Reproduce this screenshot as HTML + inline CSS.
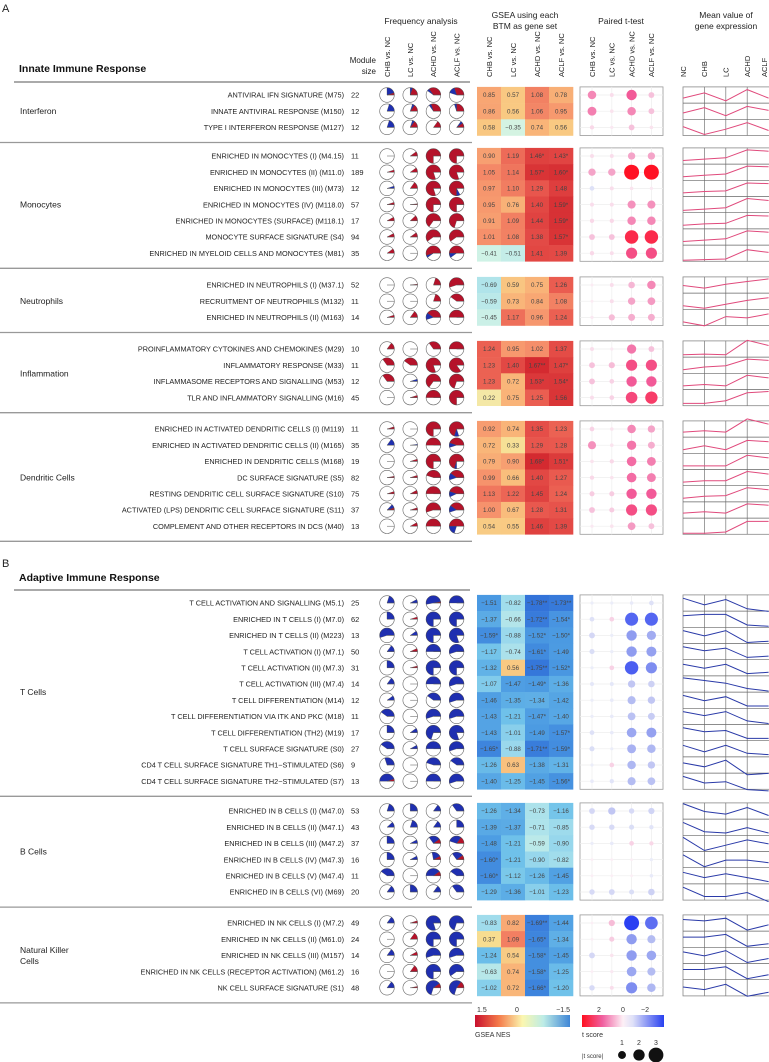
<!DOCTYPE html>
<html><head><meta charset="utf-8"><style>
body{margin:0;background:#fff;}
svg{display:block;font-family:"Liberation Sans",Arial,sans-serif;}
</style></head><body>
<svg id="fig" width="769" height="1062" viewBox="0 0 769 1062" xmlns="http://www.w3.org/2000/svg">
<defs>
<linearGradient id="gNes" x1="0" x2="1" y1="0" y2="0">
<stop offset="0" stop-color="#c8102e"/><stop offset="0.25" stop-color="#f47a4a"/><stop offset="0.5" stop-color="#fbf7b0"/><stop offset="0.72" stop-color="#bdece6"/><stop offset="1" stop-color="#3f86d6"/>
</linearGradient>
<linearGradient id="gT" x1="0" x2="1" y1="0" y2="0">
<stop offset="0" stop-color="#ff1020"/><stop offset="0.25" stop-color="#f060a0"/><stop offset="0.5" stop-color="#fdf0f6"/><stop offset="0.62" stop-color="#dfe1f8"/><stop offset="1" stop-color="#2840f0"/>
</linearGradient>
</defs>
<g id="root"></g>
</svg>
<script>
const groupNames=["Interferon","Monocytes","Neutrophils","Inflammation","Dendritic Cells","T Cells","B Cells","Natural Killer|Cells"];
const groupFirstY=[95,156,285,349,429,603,811,923];
const groupCounts=[3,7,3,4,7,12,6,5];
const groupAdaptive=[0,0,0,0,0,1,1,1];
const moduleNames=["ANTIVIRAL IFN SIGNATURE (M75)","INNATE ANTIVIRAL RESPONSE (M150)","TYPE I INTERFERON RESPONSE (M127)",
"ENRICHED IN MONOCYTES (I) (M4.15)","ENRICHED IN MONOCYTES (II) (M11.0)","ENRICHED IN MONOCYTES (III) (M73)","ENRICHED IN MONOCYTES (IV) (M118.0)","ENRICHED IN MONOCYTES (SURFACE) (M118.1)","MONOCYTE SURFACE SIGNATURE (S4)","ENRICHED IN MYELOID CELLS AND MONOCYTES (M81)",
"ENRICHED IN NEUTROPHILS (I) (M37.1)","RECRUITMENT OF NEUTROPHILS (M132)","ENRICHED IN NEUTROPHILS (II) (M163)",
"PROINFLAMMATORY CYTOKINES AND CHEMOKINES (M29)","INFLAMMATORY RESPONSE (M33)","INFLAMMASOME RECEPTORS AND SIGNALLING (M53)","TLR AND INFLAMMATORY SIGNALLING (M16)",
"ENRICHED IN ACTIVATED DENDRITIC CELLS (I) (M119)","ENRICHED IN ACTIVATED DENDRITIC CELLS (II) (M165)","ENRICHED IN DENDRITIC CELLS (M168)","DC SURFACE SIGNATURE (S5)","RESTING DENDRITIC CELL SURFACE SIGNATURE (S10)","ACTIVATED (LPS) DENDRITIC CELL SURFACE SIGNATURE (S11)","COMPLEMENT AND OTHER RECEPTORS IN DCS (M40)",
"T CELL ACTIVATION AND SIGNALLING (M5.1)","ENRICHED IN T CELLS (I) (M7.0)","ENRICHED IN T CELLS (II) (M223)","T CELL ACTIVATION (I) (M7.1)","T CELL ACTIVATION (II) (M7.3)","T CELL ACTIVATION (III) (M7.4)","T CELL DIFFERENTIATION (M14)","T CELL DIFFERENTIATION VIA ITK AND PKC (M18)","T CELL DIFFERENTIATION (TH2) (M19)","T CELL SURFACE SIGNATURE (S0)","CD4 T CELL SURFACE SIGNATURE TH1−STIMULATED (S6)","CD4 T CELL SURFACE SIGNATURE TH2−STIMULATED (S7)",
"ENRICHED IN B CELLS (I) (M47.0)","ENRICHED IN B CELLS (II) (M47.1)","ENRICHED IN B CELLS (III) (M47.2)","ENRICHED IN B CELLS (IV) (M47.3)","ENRICHED IN B CELLS (V) (M47.4)","ENRICHED IN B CELLS (VI) (M69)",
"ENRICHED IN NK CELLS (I) (M7.2)","ENRICHED IN NK CELLS (II) (M61.0)","ENRICHED IN NK CELLS (III) (M157)","ENRICHED IN NK CELLS (RECEPTOR ACTIVATION) (M61.2)","NK CELL SURFACE SIGNATURE (S1)"];
const moduleSizes=[22,12,12,11,189,12,57,17,94,35,52,11,14,10,11,12,45,11,35,19,82,75,37,13,25,62,13,50,31,14,12,11,17,27,9,13,53,43,37,16,11,20,49,24,14,16,48];
const nesValues=[[0.85,0.57,1.08,0.78],[0.86,0.56,1.06,0.95],[0.58,-0.35,0.74,0.56],
[0.90,1.19,1.46,1.43],[1.05,1.14,1.57,1.60],[0.97,1.10,1.29,1.48],[0.95,0.76,1.40,1.59],[0.91,1.09,1.44,1.59],[1.01,1.08,1.38,1.57],[-0.41,-0.51,1.41,1.39],
[-0.69,0.59,0.75,1.26],[-0.59,0.73,0.84,1.08],[-0.45,1.17,0.96,1.24],
[1.24,0.95,1.02,1.37],[1.23,1.40,1.67,1.47],[1.23,0.72,1.53,1.54],[0.22,0.75,1.25,1.56],
[0.92,0.74,1.35,1.23],[0.72,0.33,1.29,1.28],[0.79,0.90,1.68,1.51],[0.99,0.66,1.40,1.27],[1.13,1.22,1.45,1.24],[1.00,0.67,1.28,1.31],[0.54,0.55,1.46,1.39],
[-1.51,-0.82,-1.78,-1.73],[-1.37,-0.66,-1.72,-1.54],[-1.59,-0.88,-1.52,-1.50],[-1.17,-0.74,-1.61,-1.49],[-1.32,0.56,-1.75,-1.52],[-1.07,-1.47,-1.49,-1.36],[-1.46,-1.35,-1.34,-1.42],[-1.43,-1.21,-1.47,-1.40],[-1.43,-1.01,-1.49,-1.57],[-1.65,-0.88,-1.71,-1.59],[-1.26,0.63,-1.38,-1.31],[-1.40,-1.25,-1.45,-1.56],
[-1.26,-1.34,-0.73,-1.16],[-1.39,-1.37,-0.71,-0.85],[-1.48,-1.21,-0.59,-0.90],[-1.60,-1.21,-0.90,-0.82],[-1.60,-1.12,-1.26,-1.45],[-1.29,-1.36,-1.01,-1.23],
[-0.83,0.82,-1.69,-1.44],[0.37,1.09,-1.65,-1.34],[-1.24,0.54,-1.58,-1.45],[-0.63,0.74,-1.58,-1.25],[-1.02,0.72,-1.66,-1.20]];
const nesStars=[[0,0,0,0],[0,0,0,0],[0,0,0,0],
[0,0,1,1],[0,0,1,1],[0,0,0,0],[0,0,0,1],[0,0,0,1],[0,0,0,1],[0,0,0,0],
[0,0,0,0],[0,0,0,0],[0,0,0,0],
[0,0,0,0],[0,0,2,1],[0,0,1,1],[0,0,0,0],
[0,0,0,0],[0,0,0,0],[0,0,1,1],[0,0,0,0],[0,0,0,0],[0,0,0,0],[0,0,0,0],
[0,0,2,2],[0,0,2,1],[1,0,1,1],[0,0,1,0],[0,0,2,1],[0,0,1,0],[0,0,0,0],[0,0,1,0],[0,0,0,1],[1,0,2,1],[0,0,0,0],[0,0,0,1],
[0,0,0,0],[0,0,0,0],[0,0,0,0],[1,0,0,0],[1,0,0,0],[0,0,0,0],
[0,0,2,0],[0,0,1,0],[0,0,1,0],[0,0,1,0],[0,0,1,0]];
const pieRed=[[0.05,0.2,0.35,0.3],[0,0.15,0.3,0.25],[0,0.15,0.15,0.1],
[0,0.1,0.75,0.75],[0.05,0.1,0.8,0.8],[0,0.15,0.8,0.75],[0.05,0.02,0.75,0.75],[0.08,0.12,0.65,0.7],[0.08,0.1,0.6,0.6],[0.1,0,0.55,0.5],
[0,0.02,0.2,0.55],[0,0,0.2,0.4],[0.05,0.15,0.4,0.5],
[0.15,0,0.35,0.5],[0.35,0.4,0.8,0.85],[0.35,0,0.65,0.7],[0,0.05,0.5,0.75],
[0.05,0,0.75,0.7],[0,0,0.5,0.45],[0,0.05,0.75,0.7],[0.03,0.05,0.45,0.4],[0.05,0.08,0.5,0.45],[0.05,0.05,0.55,0.4],[0,0.08,0.5,0.5],
[0,0,0.03,0],[0,0.05,0,0],[0,0,0,0],[0,0.07,0,0],[0,0.04,0,0],[0,0,0,0],[0,0,0,0],[0,0,0,0],[0,0,0,0],[0,0,0,0],[0,0,0,0],[0.05,0,0,0],
[0,0,0,0],[0,0,0,0],[0,0,0.1,0.15],[0,0,0.08,0.1],[0,0,0.1,0],[0,0,0,0],
[0,0.05,0,0],[0,0.15,0,0],[0,0.08,0,0],[0,0.15,0,0],[0,0.03,0.1,0.15]];
const pieBlue=[[0.2,0.05,0.05,0.15],[0.2,0.05,0.05,0.05],[0.2,0.05,0,0.05],
[0,0,0,0],[0,0,0,0],[0.05,0,0,0.08],[0,0,0,0],[0,0,0,0],[0,0,0,0],[0,0,0.05,0.1],
[0,0,0,0],[0,0,0,0],[0,0,0.15,0],
[0,0,0,0],[0,0,0,0],[0,0.05,0,0],[0,0,0,0],
[0,0,0,0.1],[0.15,0.02,0,0.1],[0,0,0,0.05],[0,0,0,0.15],[0,0,0,0.12],[0.08,0,0,0.15],[0,0,0,0.2],
[0.2,0.08,0.5,0.5],[0.25,0,0.75,0.75],[0.55,0.1,0.75,0.8],[0.15,0,0.5,0.55],[0.25,0,0.75,0.75],[0.15,0,0.5,0.55],[0.1,0,0.4,0.55],[0.4,0,0.55,0.55],[0.25,0.1,0.7,0.8],[0.4,0.08,0.5,0.55],[0.3,0,0.45,0.4],[0.45,0,0.5,0.55],
[0.2,0.25,0.15,0.35],[0.12,0.2,0.15,0.25],[0.25,0.08,0.25,0.3],[0.25,0.08,0.2,0.25],[0.4,0,0.4,0.4],[0.15,0.25,0.15,0.35],
[0.15,0,0.8,0.7],[0,0,0.75,0.75],[0.15,0,0.55,0.55],[0,0,0.75,0.6],[0.15,0,0.6,0.55]];
const tScores=[[1.5,0.3,2.0,0.8],[1.6,0.2,1.5,0.8],[0.4,0.1,0.8,0.2],
[0.3,0.3,1.2,1.2],[1.2,1.2,3.2,3.2],[-0.5,0.3,0.2,0.1],[0.3,0.3,1.4,1.4],[0.4,0.4,1.5,1.5],[0.8,0.8,2.8,2.8],[0.4,0.3,2.2,2.2],
[0.05,0.3,1.0,1.5],[0.05,0.3,1.2,1.3],[0.1,0.9,1.1,1.1],
[0.3,0.1,1.7,0.8],[0.8,0.9,2.2,2.2],[0.8,0.5,2.0,2.0],[0.3,0.5,2.3,2.5],
[0.5,0.2,1.5,1.2],[1.4,0.2,1.7,1.1],[0.2,0.4,1.8,1.6],[0.4,0.2,1.8,1.6],[0.6,0.6,2.0,2.0],[0.8,0.6,2.2,2.2],[0.1,0.2,1.3,0.8],
[-0.1,-0.1,-0.2,-0.5],[-0.5,0.5,-2.7,-2.7],[-0.8,-0.1,-2.0,-1.7],[-0.6,-0.1,-2.0,-1.9],[-0.1,0.5,-2.8,-2.2],[-0.3,-0.3,-1.2,-1.0],[-0.1,-0.2,-1.4,-1.2],[-0.1,-0.2,-1.3,-1.1],[-0.5,-0.2,-1.8,-1.9],[-0.6,-0.1,-1.6,-1.5],[-0.1,0.5,-1.5,-1.2],[-0.2,-0.4,-1.4,-1.3],
[-0.8,-1.2,-0.7,-0.9],[-0.7,-0.7,-0.6,-0.4],[-0.1,-0.2,0.5,0.4],[0,0,0,-0.1],[0,0,0,-0.2],[-0.7,-0.8,-0.6,-1.0],
[0,0.9,-3.2,-2.6],[0,0.6,-2.0,-1.4],[-0.8,0.2,-2.0,-1.8],[0,0.1,-1.8,-1.4],[-0.7,0.3,-2.2,-1.5]];
const meanExpr=[[0.3,0.7,0.1,0.95,0.3],[0.4,0.8,0.2,0.9,0.6],[0.6,0.0,0.4,0.9,0.3],
[0.2,0.3,0.4,1.0,0.9],[0.2,0.3,0.4,1.0,0.95],[0.2,0.3,0.35,0.95,0.9],[0.1,0.2,0.3,1.0,0.85],[0.2,0.3,0.35,0.95,0.9],[0.2,0.3,0.4,1.0,0.9],[0.0,0.05,0.1,0.8,0.6],
[0.5,0.3,0.6,0.8,1.0],[0.2,0.0,0.3,0.6,0.8],[0.2,-0.1,0.6,0.5,0.8],
[0.1,0.15,0.1,1.2,0.8],[0.2,0.4,0.5,1.0,0.9],[0.2,0.3,0.2,1.0,0.8],[0.1,0.1,0.3,0.9,1.0],
[0.3,0.4,0.3,1.3,0.9],[0.2,0.5,0.2,0.9,0.8],[0.2,0.2,0.2,1.0,0.8],[0.2,0.3,0.3,1.0,0.8],[0.2,0.35,0.4,1.0,0.85],[0.3,0.4,0.3,1.0,0.9],[0.0,0.0,0.1,0.9,0.9],
[0.9,0.4,0.8,0.1,-0.1],[0.8,0.9,0.9,0.1,0.0],[0.9,0.5,0.9,0.0,0.1],[0.9,0.6,0.8,0.1,0.2],[0.8,0.5,0.8,0.1,0.2],[1.0,0.8,0.6,0.2,0.0],[0.9,0.5,0.8,0.1,0.1],[0.9,0.6,0.9,0.2,0.0],[0.9,0.6,0.7,0.1,0.1],[0.8,0.3,0.8,0.2,0.1],[0.7,0.4,0.9,-0.2,-0.1],[0.9,0.4,0.5,-0.1,-0.2],
[1.1,0.5,0.3,0.8,0.2],[0.9,0.2,0.1,0.5,0.1],[1.0,0.0,0.4,0.8,0.5],[0.9,0.0,0.5,0.5,0.3],[0.8,0.4,0.7,0.4,0.1],[0.9,0.2,0.2,0.5,-0.2],
[0.8,0.7,0.9,0.0,0.4],[0.7,0.7,0.9,0.0,0.2],[0.8,0.5,0.9,0.0,0.3],[0.7,0.7,0.9,0.0,0.3],[0.6,0.4,0.8,-0.1,0.2]];
const compLabels=["CHB vs. NC","LC vs. NC","ACHD vs. NC","ACLF vs. NC"];
const stageLabels=["NC","CHB","LC","ACHD","ACLF"];

const NS="http://www.w3.org/2000/svg";
const root=document.getElementById('root');
function mk(tag,attrs,parent,txt){const e=document.createElementNS(NS,tag);for(const k in attrs)e.setAttribute(k,attrs[k]);if(txt!==undefined)e.textContent=txt;(parent||root).appendChild(e);return e;}
const ROW=16.2;
const pieX=i=>387+i*23.2;
const hmX0=477, hmW=24;
const hmX=i=>hmX0+i*hmW;
const dotX=i=>592+i*19.8;
const lnX=i=>683+i*21.4;
const rowY=(g,k)=>groupFirstY[g]+k*ROW;
const rScale=t=>1.4+1.9*Math.min(Math.abs(t),3.4);

function hexToRgb(h){return [parseInt(h.substr(1,2),16),parseInt(h.substr(3,2),16),parseInt(h.substr(5,2),16)];}
function interp(stops,v){if(v>=stops[0][0])return stops[0][1];if(v<=stops[stops.length-1][0])return stops[stops.length-1][1];
for(let i=0;i<stops.length-1;i++){const [a,ca]=stops[i],[b,cb]=stops[i+1];if(v<=a&&v>=b){const f=(a-v)/(a-b);const A=hexToRgb(ca),B=hexToRgb(cb);return 'rgb('+A.map((x,j)=>Math.round(x+(B[j]-x)*f)).join(',')+')';}}}
const nesStops=[[1.65,'#d42a30'],[1.3,'#e8544c'],[1.0,'#f6926c'],[0.7,'#f9b97a'],[0.4,'#f8db8c'],[0.0,'#f0f7c6'],[-0.4,'#d0f2e6'],[-0.8,'#a4deec'],[-1.2,'#70c2ea'],[-1.5,'#4b9ae2'],[-1.8,'#3170d8']];
const tStops=[[3.2,'#ff1224'],[2.0,'#f25a98'],[1.0,'#f5b6d4'],[0,'#fbeef5'],[-0.01,'#eef0fa'],[-1.0,'#cdd1f4'],[-2.0,'#8f9cf0'],[-3.2,'#2a40f2']];

mk('text',{x:2,y:12,'font-size':11,fill:'#222',},root,'A');
mk('text',{x:2,y:567,'font-size':11,fill:'#222',},root,'B');
function hdr(x,y,t,n){mk('text',{x:x,y:y,'font-size':8.5,'text-anchor':'middle',fill:'#222',},root,t);}
hdr(421,24,'Frequency analysis','frequency-analysis-title');
hdr(525,18,'GSEA using each','gsea-title');hdr(525,29,'BTM as gene set','gsea-title-line2');
hdr(621,24,'Paired t-test','t-test-title');
hdr(726,18,'Mean value of','mean-expression-title');hdr(726,29,'gene expression','mean-expression-title-line2');
mk('text',{x:19,y:72,'font-size':10.5,'font-weight':'bold',fill:'#111',},root,'Innate Immune Response');
mk('text',{x:19,y:581,'font-size':10.5,'font-weight':'bold',fill:'#111',},root,'Adaptive Immune Response');
mk('text',{x:376,y:63,'font-size':8,'text-anchor':'end',fill:'#222',},root,'Module');
mk('text',{x:376,y:74,'font-size':8,'text-anchor':'end',fill:'#222',},root,'size');
function rot(x,t,n){mk('text',{x:0,y:0,'font-size':7.5,fill:'#222',transform:'translate('+(x+2.8)+',77) rotate(-90)',},root,t);}
compLabels.forEach((c,i)=>{rot(pieX(i),c,'pie-col-label');rot(hmX(i)+hmW/2,c,'gsea-col-label');rot(dotX(i),c,'ttest-col-label');});
stageLabels.forEach((s,i)=>rot(Math.min(lnX(i),764),s,'stage-label'));
mk('line',{x1:14,y1:82,x2:470,y2:82,stroke:'#777','stroke-width':1.3,});
mk('line',{x1:14,y1:590,x2:470,y2:590,stroke:'#777','stroke-width':1.3,});

let idx=0;
groupNames.forEach((gn,g)=>{
  const n=groupCounts[g], y0=rowY(g,0)-ROW/2, y1=rowY(g,n-1)+ROW/2, mid=(y0+y1)/2;
  const lines=gn.split('|');
  lines.forEach((l,j)=>mk('text',{x:20,y:mid+3+(j-(lines.length-1)/2)*11,'font-size':8.5,fill:'#222',},root,l));
  mk('line',{x1:0,y1:y1+7,x2:472,y2:y1+7,stroke:'#999','stroke-width':1.3,});
  mk('rect',{x:580,y:y0,width:83,height:y1-y0,fill:'#fff',stroke:'#999','stroke-width':0.8,});
  for(let i=0;i<4;i++)mk('line',{x1:dotX(i),y1:y0,x2:dotX(i),y2:y1,stroke:'#eee','stroke-width':0.7,});
  for(let k=0;k<n;k++)mk('line',{x1:580,y1:rowY(g,k),x2:663,y2:rowY(g,k),stroke:'#eee','stroke-width':0.7,});
  mk('rect',{x:683,y:y0,width:88,height:y1-y0,fill:'#fff',stroke:'#888','stroke-width':0.8,});
  for(let i=1;i<4;i++)mk('line',{x1:lnX(i),y1:y0,x2:lnX(i),y2:y1,stroke:'#777','stroke-width':0.7,});
  for(let k=1;k<n;k++)mk('line',{x1:683,y1:y0+k*ROW,x2:769,y2:y0+k*ROW,stroke:'#666','stroke-width':0.7,});
  for(let k=0;k<n;k++,idx++){
    const y=rowY(g,k);
    mk('text',{x:344,y:y+2.7,'font-size':7.3,'text-anchor':'end',fill:'#222',},root,moduleNames[idx]);
    mk('text',{x:351,y:y+2.7,'font-size':7.5,fill:'#222',},root,String(moduleSizes[idx]));
    for(let i=0;i<4;i++){
      const cx=pieX(i), r=7.3;
      mk('circle',{cx:cx,cy:y,r:r,fill:'#fff',stroke:'#666','stroke-width':0.6,});
      const fr=pieRed[idx][i], fb=pieBlue[idx][i];
      const wedge=(a0,a1,col,nm)=>{ if(a1-a0<=0)return; const p=a=>[cx+r*Math.cos(a),y-r*Math.sin(a)];
        const s=p(a0),e=p(a1);const large=(a1-a0)>Math.PI?1:0;
        const el=mk('path',{d:`M${cx},${y}L${s[0].toFixed(2)},${s[1].toFixed(2)}A${r},${r} 0 ${large} 0 ${e[0].toFixed(2)},${e[1].toFixed(2)}Z`,fill:col,stroke:'#444','stroke-width':0.3});
        
        };
      wedge(0,2*Math.PI*fr,'#b5122a','pie-up-wedge');
      wedge(2*Math.PI*fr,2*Math.PI*(fr+fb),'#1f2fb0','pie-down-wedge');
      mk('line',{x1:cx,y1:y,x2:cx+r,y2:y,stroke:'#555','stroke-width':0.5,});
      const v=nesValues[idx][i];
      mk('rect',{x:hmX(i),y:y-ROW/2,width:hmW+0.3,height:ROW+0.3,fill:interp(nesStops,v),});
      const txt=(v<0?'−'+Math.abs(v).toFixed(2):v.toFixed(2))+'*'.repeat(nesStars[idx][i]);
      mk('text',{x:hmX(i)+hmW/2,y:y+2.2,'font-size':6.2,'text-anchor':'middle',fill:'#444',},root,txt);
      const t=tScores[idx][i];
      mk('circle',{cx:dotX(i),cy:y,r:rScale(t),fill:interp(tStops,t),});
    }
    const vals=meanExpr[idx];
    const pts=vals.map((v,i)=>lnX(i).toFixed(1)+','+(y+ROW/2-1-v*(ROW-3)).toFixed(1)).join(' ');
    mk('polyline',{points:pts,fill:'none',stroke:groupAdaptive[g]?'#2a3aa8':'#e04a7c','stroke-width':1,});
  }
});

mk('rect',{x:475,y:1015,width:95,height:12,fill:'url(#gNes)',});
[['1.5',477,'start'],['0',517,'middle'],['−1.5',570,'end']].forEach(a=>mk('text',{x:a[1],y:1012,'font-size':7,'text-anchor':a[2],fill:'#333',},root,a[0]));
mk('text',{x:475,y:1037,'font-size':7,fill:'#333',},root,'GSEA NES');
mk('rect',{x:582,y:1015,width:82,height:12,fill:'url(#gT)',});
[['2',599],['0',623],['−2',645]].forEach(a=>mk('text',{x:a[1],y:1012,'font-size':7,'text-anchor':'middle',fill:'#333',},root,a[0]));
mk('text',{x:582,y:1037,'font-size':7,fill:'#333',},root,'t score');
mk('text',{x:582,y:1058,'font-size':6,fill:'#333',},root,'|t score|');
[[1,622],[2,639],[3,656]].forEach(a=>{mk('circle',{cx:a[1],cy:1055,r:rScale(a[0])*0.9+1,fill:'#111',});
mk('text',{x:a[1],y:1045,'font-size':7,'text-anchor':'middle',fill:'#333',},root,String(a[0]));});
</script>
</body></html>
